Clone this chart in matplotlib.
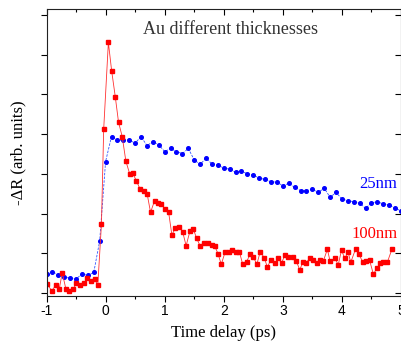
import numpy as np
import matplotlib
matplotlib.use("Agg")
import matplotlib.pyplot as plt

# 25 nm film (blue)
t_25 = [-1.0, -0.9, -0.8, -0.7, -0.6, -0.5, -0.4, -0.3, -0.2, -0.1,
        0.0, 0.1, 0.2, 0.3, 0.4, 0.5, 0.6, 0.7, 0.8, 0.9,
        1.0, 1.1, 1.2, 1.3, 1.4, 1.5, 1.6, 1.7, 1.8, 1.9,
        2.0, 2.1, 2.2, 2.3, 2.4, 2.5, 2.6, 2.7, 2.8, 2.9,
        3.0, 3.1, 3.2, 3.3, 3.4, 3.5, 3.6, 3.7, 3.8, 3.9,
        4.0, 4.1, 4.2, 4.3, 4.4, 4.5, 4.6, 4.7, 4.8, 4.9, 5.0]
dr_25 = [0.48, 0.54, 0.45, 0.39, 0.38, 0.35, 0.48, 0.44, 0.52, 1.31,
         3.31, 3.94, 3.85, 3.84, 3.85, 3.77, 3.94, 3.71, 3.81, 3.73,
         3.56, 3.64, 3.56, 3.51, 3.64, 3.35, 3.24, 3.39, 3.25, 3.22,
         3.14, 3.12, 3.04, 3.07, 3.00, 2.97, 2.89, 2.86, 2.80, 2.79,
         2.70, 2.76, 2.66, 2.58, 2.58, 2.61, 2.53, 2.64, 2.41, 2.53,
         2.37, 2.32, 2.30, 2.26, 2.13, 2.27, 2.30, 2.24, 2.22, 2.13, 2.07]

# 100 nm film (red)
t_100 = [-0.985, -0.911, -0.844, -0.784, -0.734, -0.672, -0.617, -0.550, -0.493, -0.438,
         -0.371, -0.309, -0.249, -0.187, -0.132, -0.070, -0.032, 0.047, 0.102, 0.164,
         0.219, 0.281, 0.343, 0.410, 0.457, 0.523, 0.582, 0.649, 0.704, 0.761,
         0.828, 0.888, 0.945, 1.012, 1.067, 1.122, 1.179, 1.246, 1.306, 1.363,
         1.430, 1.485, 1.540, 1.602, 1.664, 1.731, 1.794, 1.844, 1.903, 1.958,
         2.025, 2.082, 2.137, 2.209, 2.266, 2.321, 2.388, 2.443, 2.500, 2.560,
         2.617, 2.684, 2.739, 2.794, 2.868, 2.923, 2.978, 3.035, 3.095, 3.169,
         3.227, 3.286, 3.341, 3.396, 3.453, 3.508, 3.575, 3.630, 3.687, 3.754,
         3.798, 3.881, 3.938, 3.993, 4.048, 4.105, 4.149, 4.232, 4.289, 4.356,
         4.411, 4.467, 4.533, 4.590, 4.645, 4.701, 4.768, 4.846]
dr_100 = [0.22, 0.05, 0.20, 0.10, 0.51, 0.10, 0.06, 0.10, 0.24, 0.20,
          0.24, 0.37, 0.30, 0.35, 0.20, 1.74, 4.13, 6.31, 5.60, 4.94,
          4.30, 3.94, 3.32, 2.99, 3.02, 2.82, 2.62, 2.58, 2.49, 2.03,
          2.32, 2.27, 2.23, 2.11, 2.03, 1.46, 1.63, 1.67, 1.53, 1.19,
          1.57, 1.61, 1.38, 1.18, 1.25, 1.25, 1.21, 1.19, 0.99, 0.72,
          1.04, 1.04, 1.08, 1.03, 1.03, 0.72, 0.79, 0.97, 0.91, 0.72,
          1.04, 0.89, 0.65, 0.83, 0.75, 0.87, 0.75, 0.96, 0.90, 0.90,
          0.81, 0.58, 0.79, 0.76, 0.87, 0.83, 0.76, 0.83, 0.81, 1.10,
          0.81, 0.87, 0.71, 1.08, 0.87, 1.03, 0.77, 1.11, 0.97, 0.77,
          0.81, 0.83, 0.47, 0.62, 0.75, 0.79, 0.77, 1.10]

serif = ["Liberation Serif", "DejaVu Serif"]
sans = ["Liberation Sans", "DejaVu Sans"]

fig = plt.figure(figsize=(4.02, 3.47), dpi=100)
ax = fig.add_axes([0.1157, 0.147, 0.8818, 0.827])

ax.plot(t_25, dr_25, color="#3355ff", lw=0.6, ls=(0, (3, 1.5)),
        marker="o", ms=2.6, mec="#0000ff", mfc="#0000ff")
ax.plot(t_100, dr_100, color="#ff3030", lw=0.6,
        marker="s", ms=2.3, mec="#ff0000", mfc="#ff0000")

ax.set_xlim(-1, 5)
ax.set_ylim(-0.076, 7.15)
ax.set_xticks(np.arange(-1, 6, 1))
ax.set_xticks(np.arange(-0.5, 5, 1), minor=True)
ax.set_yticks(np.arange(0, 8, 1))
ax.set_yticklabels([])
ax.set_xticklabels(["-1", "0", "1", "2", "3", "4", "5"], family=sans, fontsize=10)

ax.tick_params(axis="x", which="major", direction="out", length=4, width=0.8, pad=2)
ax.tick_params(axis="x", which="minor", direction="out", length=2.5, width=0.8)
ax.tick_params(axis="y", which="major", direction="out", length=4, width=0.8)

# inward ticks on the top and right edges
sec = ax.secondary_xaxis("top")
sec.set_xticks(np.arange(-1, 6, 1))
sec.set_xticks(np.arange(-0.5, 5, 1), minor=True)
sec.tick_params(which="major", direction="in", length=4, width=0.8, labeltop=False)
sec.tick_params(which="minor", direction="in", length=2.5, width=0.8)
sec.spines["top"].set_visible(False)
secy = ax.secondary_yaxis("right")
secy.set_yticks(np.arange(0, 8, 1))
secy.tick_params(direction="in", length=4, width=0.8, labelright=False)
secy.spines["right"].set_visible(False)

for s in ax.spines.values():
    s.set_linewidth(0.8)
    s.set_color("#222222")

ax.set_xlabel("Time delay (ps)", family=serif, fontsize=12, labelpad=5)
ax.set_ylabel("-ΔR (arb. units)", family=serif, fontsize=12, labelpad=7)

ax.text(0.52, 0.96, "Au different thicknesses", transform=ax.transAxes,
        family=serif, fontsize=13, color="#333333", ha="center", va="top")
ax.text(4.94, 2.74, "25nm", family=serif, fontsize=12, color="#0000ff",
        ha="right", va="center")
ax.text(4.94, 1.48, "100nm", family=serif, fontsize=12, color="#ff0000",
        ha="right", va="center")

fig.savefig("out.png", dpi=100)
